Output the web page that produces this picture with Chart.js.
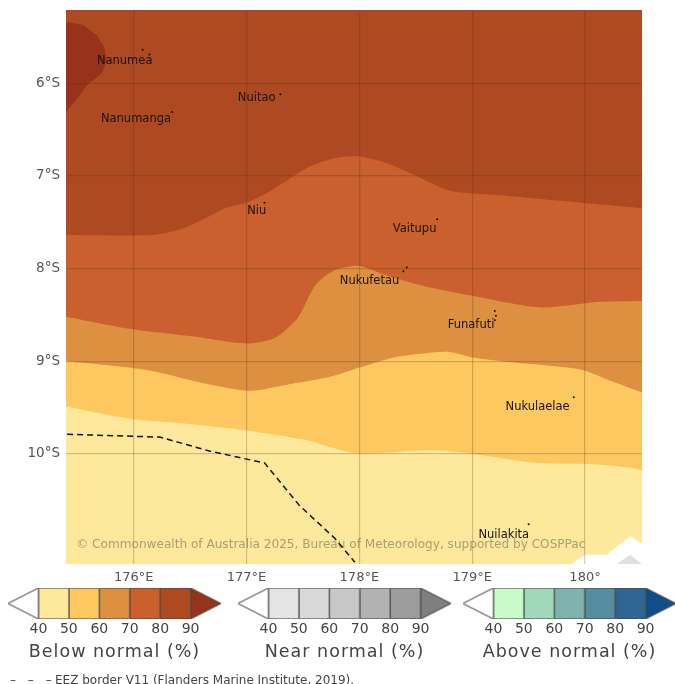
<!DOCTYPE html>
<html lang="en">
<head>
<meta charset="UTF-8">
<title>Tuvalu outlook map</title>
<style>
  html, body { margin: 0; background: #fff; overflow: hidden; }
  #page { position: relative; width: 675px; height: 684px; overflow: hidden; filter: blur(0.55px); }
  canvas { position: absolute; display: block; }
  #eez { position: absolute; left: 10px; top: 673px; font: 12px "DejaVu Sans", sans-serif; color: #444; white-space: nowrap; }
  #eez span { display: inline-block; width: 45px; letter-spacing: 4px; }
</style>
</head>
<body>
<div id="page">
  <canvas id="map" width="675" height="590" style="left:0;top:0"></canvas>
  <canvas id="barBelow" width="233" height="86" style="left:-2px;top:582px"></canvas>
  <canvas id="barNear" width="233" height="86" style="left:228px;top:582px"></canvas>
  <canvas id="barAbove" width="233" height="86" style="left:453px;top:582px"></canvas>
  <div id="eez"><span>– – –</span>EEZ border V11 (Flanders Marine Institute, 2019).</div>
</div>
<script src="https://cdn.jsdelivr.net/npm/chart.js"></script>
<script>
// map extent and ticks
const lonTicks = [176, 177, 178, 179, 180];
const latTicks = [-6, -7, -8, -9, -10];
const lonRange = [175.40, 180.505];
const latRange = [-11.19, -5.21];

// contour boundaries (lon, lat)
const edge80Lon = [175.40, 176.17, 176.41, 176.65, 176.81, 177.00, 177.16, 177.32, 177.56, 177.78, 177.99, 178.23, 178.54, 178.80, 179.25, 179.78, 180.13, 180.505];
const edge80Lat = [-7.64, -7.64, -7.58, -7.45, -7.35, -7.29, -7.20, -7.08, -6.90, -6.81, -6.79, -6.86, -7.02, -7.16, -7.21, -7.27, -7.31, -7.35];
const edge70Lon = [175.40, 175.96, 176.50, 177.00, 177.25, 177.45, 177.61, 177.78, 177.99, 178.23, 178.54, 178.98, 179.60, 180.13, 180.505];
const edge70Lat = [-8.52, -8.65, -8.73, -8.81, -8.75, -8.54, -8.18, -8.02, -7.97, -8.07, -8.18, -8.29, -8.42, -8.36, -8.35];
const edge60Lon = [175.40, 176.14, 176.59, 177.03, 177.38, 177.74, 178.00, 178.31, 178.78, 179.00, 179.33, 179.96, 180.22, 180.505];
const edge60Lat = [-9.00, -9.10, -9.23, -9.32, -9.25, -9.17, -9.07, -8.96, -8.90, -8.96, -9.01, -9.09, -9.21, -9.34];
const edge50Lon = [175.40, 175.96, 176.59, 177.12, 177.56, 177.74, 178.00, 178.60, 178.78, 179.00, 179.57, 180.02, 180.41, 180.505];
const edge50Lat = [-9.49, -9.62, -9.69, -9.77, -9.86, -9.93, -10.00, -9.96, -9.97, -10.00, -10.10, -10.11, -10.15, -10.18];
const edge90Lon = [175.40, 175.55, 175.67, 175.74, 175.76, 175.72, 175.59, 175.49, 175.40, 175.40];
const edge90Lat = [-5.34, -5.37, -5.48, -5.61, -5.75, -5.89, -6.02, -6.18, -6.31, -5.34];

// white patch and grey sliver, bottom right
const patchLon = [179.88, 180.00, 180.19, 180.40, 180.505, 180.505, 179.88];
const patchLat = [-11.19, -11.09, -11.09, -10.89, -10.97, -11.19, -11.19];
const sliverLon = [180.28, 180.40, 180.505, 180.28];
const sliverLat = [-11.19, -11.09, -11.19, -11.19];

// EEZ border
const eezLon = [175.41, 176.23, 176.67, 177.16, 177.47, 177.78, 177.96];
const eezLat = [-9.79, -9.82, -9.97, -10.10, -10.56, -10.91, -11.17];

// islands
const islandNames = ['Nanumea', 'Nanumanga', 'Nuitao', 'Niu', 'Vaitupu', 'Nukufetau', 'Funafuti', 'Nukulaelae', 'Nuilakita'];
const islandLon = [175.92, 176.02, 177.09, 177.09, 178.49, 178.09, 178.99, 179.58, 179.28];
const islandLat = [-5.76, -6.39, -6.16, -7.38, -7.57, -8.14, -8.61, -9.50, -10.88];
const atollLon = [176.14, 176.08, 176.34, 177.30, 177.16, 178.69, 178.39, 178.42, 179.20, 179.21, 179.20, 179.90, 179.50];
const atollLat = [-5.69, -5.64, -6.31, -6.12, -7.29, -7.47, -8.03, -7.99, -8.46, -8.51, -8.56, -9.39, -10.76];

const creditText = '© Commonwealth of Australia 2025, Bureau of Meteorology, supported by COSPPac';
const creditLon = 175.49;
const creditLat = -10.98;

// colour bars
const barEdges = [40, 50, 60, 70, 80, 90];
const belowColors = ['#ffffff', '#fee89c', '#fec860', '#de9041', '#ca602d', '#ae4a22', '#96331a'];
const nearColors = ['#ffffff', '#e4e4e4', '#d8d8d8', '#c8c8c8', '#b2b2b2', '#9c9c9c', '#7f7f7f'];
const aboveColors = ['#ffffff', '#c8fbc8', '#a0d9ba', '#7db3ac', '#548d9f', '#2e6592', '#104e8b'];

function pts(xs, ys) {
  return xs.map((x, i) => ({ x: x, y: ys[i] }));
}

function band(xs, ys, color, order) {
  return { data: pts(xs, ys), showLine: true, fill: 'start', backgroundColor: color, borderWidth: 0, pointRadius: 0, tension: 0.25, order: order };
}

function shape(xs, ys, color, order) {
  return { data: pts(xs, ys), showLine: true, fill: 'shape', backgroundColor: color, borderWidth: 0, pointRadius: 0, order: order };
}

const mapLabels = {
  id: 'mapLabels',
  afterDraw(chart) {
    const c = chart.ctx, sx = chart.scales.x, sy = chart.scales.y;
    c.save();
    c.textAlign = 'center';
    c.textBaseline = 'middle';
    c.fillStyle = '#1a1208';
    c.font = '11.5px "DejaVu Sans"';
    islandNames.forEach((name, i) => {
      c.fillText(name, sx.getPixelForValue(islandLon[i]), sy.getPixelForValue(islandLat[i]));
    });
    c.textAlign = 'left';
    c.fillStyle = 'rgba(85,85,70,0.5)';
    c.font = '12.1px "DejaVu Sans"';
    c.fillText(creditText, sx.getPixelForValue(creditLon), sy.getPixelForValue(creditLat));
    c.restore();
  }
};

new Chart(document.getElementById('map'), {
  type: 'scatter',
  data: { datasets: [
    { data: pts(atollLon, atollLat), pointRadius: 1, pointBackgroundColor: '#111', pointBorderWidth: 0, order: 1 },
    { data: pts(eezLon, eezLat), showLine: true, borderColor: '#111', borderWidth: 1.5, borderDash: [6, 4], pointRadius: 0, order: 2 },
    shape(sliverLon, sliverLat, '#e0e0e0', 3),
    shape(patchLon, patchLat, '#ffffff', 4),
    band(edge50Lon, edge50Lat, belowColors[1], 5),
    band(edge60Lon, edge60Lat, belowColors[2], 6),
    band(edge70Lon, edge70Lat, belowColors[3], 7),
    band(edge80Lon, edge80Lat, belowColors[4], 8),
    shape(edge90Lon, edge90Lat, belowColors[6], 9),
    band(lonRange, [latRange[1], latRange[1]], belowColors[5], 10)
  ] },
  options: {
    responsive: false,
    animation: false,
    layout: { padding: { top: 10, right: 33, left: 0, bottom: 0 } },
    plugins: { legend: { display: false }, tooltip: { enabled: false } },
    scales: {
      x: {
        type: 'linear', min: lonRange[0], max: lonRange[1],
        afterBuildTicks(s) { s.ticks = lonTicks.map(v => ({ value: v })); },
        afterFit(s) { s.height = 26; s.paddingLeft = 0; s.paddingRight = 0; },
        grid: { z: 1, color: 'rgba(60,50,30,0.24)', lineWidth: 1.2, drawTicks: false },
        border: { display: false },
        ticks: { padding: 6, maxRotation: 0, color: '#555', font: { family: 'DejaVu Sans', size: 13 },
          callback: v => v === 180 ? '180°' : v + '°E' }
      },
      y: {
        type: 'linear', min: latRange[0], max: latRange[1],
        afterBuildTicks(s) { s.ticks = latTicks.map(v => ({ value: v })); },
        afterFit(s) { s.width = 66; s.paddingTop = 0; s.paddingBottom = 0; },
        grid: { z: 1, color: 'rgba(60,50,30,0.24)', lineWidth: 1.2, drawTicks: false },
        border: { display: false },
        ticks: { padding: 6, color: '#555', font: { family: 'DejaVu Sans', size: 13.5 },
          callback: v => Math.abs(v) + '°S' }
      }
    }
  },
  plugins: [mapLabels]
});

function colorBar(id, colors, title) {
  const cells = [];
  const last = barEdges[barEdges.length - 1];
  cells.push({ data: pts([40, 30, 40, 40], [1, 0.5, 0, 1]), backgroundColor: colors[0] });
  barEdges.slice(0, -1).forEach((e, i) => {
    const n = barEdges[i + 1];
    cells.push({ data: pts([e, n, n, e, e], [1, 1, 0, 0, 1]), backgroundColor: colors[i + 1] });
  });
  cells.push({ data: pts([last, 100, last, last], [1, 0.5, 0, 1]), backgroundColor: colors[6] });
  cells.forEach(d => {
    d.showLine = true; d.fill = 'shape'; d.pointRadius = 0; d.borderWidth = 1.8;
    d.borderColor = 'rgba(70,70,70,0.55)';
  });
  const barTitle = {
    id: 'barTitle',
    afterDraw(chart) {
      const c = chart.ctx;
      c.save();
      c.letterSpacing = '1px';
      c.textAlign = 'center';
      c.textBaseline = 'middle';
      c.fillStyle = '#444';
      c.font = '17.5px "DejaVu Sans"';
      c.fillText(title, chart.scales.x.getPixelForValue(65), 70);
      c.restore();
    }
  };
  new Chart(document.getElementById(id), {
    type: 'scatter',
    data: { datasets: cells },
    options: {
      responsive: false,
      animation: false,
      layout: { padding: { left: 10, right: 10, top: 6, bottom: 0 } },
      plugins: { legend: { display: false }, tooltip: { enabled: false } },
      scales: {
        x: {
          type: 'linear', min: 30, max: 100,
          afterBuildTicks(s) { s.ticks = barEdges.map(v => ({ value: v })); },
          afterFit(s) { s.height = 49; s.paddingLeft = 0; s.paddingRight = 0; },
          grid: { display: false, drawTicks: false },
          border: { display: false },
          ticks: { padding: 2, maxRotation: 0, color: '#444', font: { family: 'DejaVu Sans', size: 14 } }
        },
        y: { type: 'linear', min: 0, max: 1, display: false }
      }
    },
    plugins: [barTitle]
  });
}

colorBar('barBelow', belowColors, 'Below normal (%)');
colorBar('barNear', nearColors, 'Near normal (%)');
colorBar('barAbove', aboveColors, 'Above normal (%)');
</script>
</body>
</html>
